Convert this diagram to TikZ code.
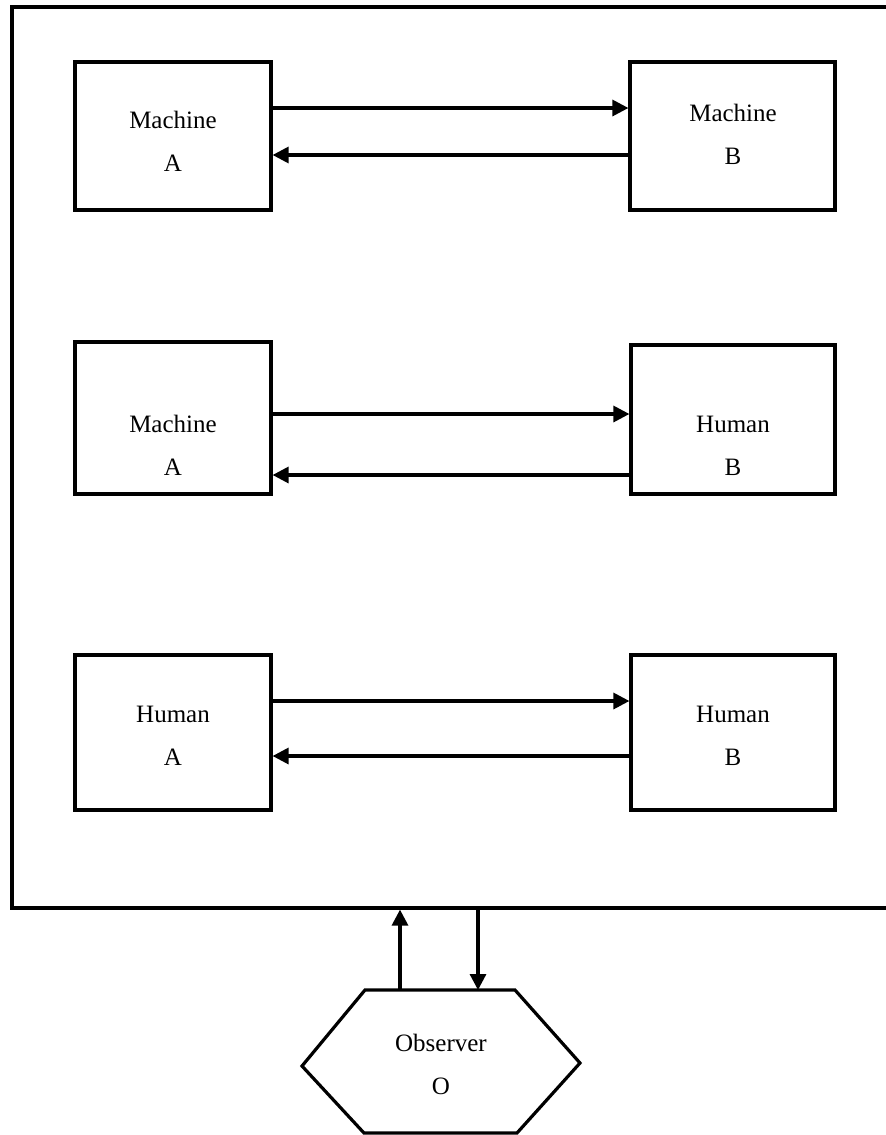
\documentclass[tikz,border=0pt]{standalone}
\usepackage{fontspec}
\setmainfont{Liberation Serif}
\usetikzlibrary{arrows.meta}
\begin{document}
\begin{tikzpicture}[x=1pt,y=-1pt,
  box/.style={draw,line width=3.2pt,minimum width=#1,inner sep=0pt},
  lbl/.style={align=center,font=\fontsize{25}{43}\selectfont,inner sep=0pt},
  arr/.style={line width=3.2pt,-{Triangle[length=16pt,width=16pt]}}]
\clip (0,0) rectangle (886,1135);
\fill[white] (0,0) rectangle (886,1135);
% outer frame
\node[draw,line width=3.2pt,minimum width=880pt,minimum height=901pt,inner sep=0pt] (frame) at (452,457.5) {};
% row 1
\node[box=196pt,minimum height=148pt] (a1) at (173,136) {};
\node[box=205pt,minimum height=148pt] (b1) at (732.5,136) {};
\node[lbl] (ta1) at (173,141) {Machine\\A};
\node[lbl] (tb1) at (733,134) {Machine\\B};
\draw[arr] ([yshift=28pt]a1.east) -- ([yshift=28pt]b1.west);
\draw[arr] ([yshift=-19pt]b1.west) -- ([yshift=-19pt]a1.east);
% row 2
\node[box=196pt,minimum height=152pt] (a2) at (173,418) {};
\node[box=204pt,minimum height=149pt] (b2) at (733,419.5) {};
\node[lbl] (ta2) at (173,445) {Machine\\A};
\node[lbl] (tb2) at (733,446) {Human\\B};
\draw[arr] ([yshift=4pt]a2.east) -- ([yshift=4pt]a2.east -| b2.west);
\draw[arr] ([yshift=-57pt]a2.east -| b2.west) -- ([yshift=-57pt]a2.east);
% row 3
\node[box=196pt,minimum height=155pt] (a3) at (173,732.5) {};
\node[box=204pt,minimum height=155pt] (b3) at (733,732.5) {};
\node[lbl] (ta3) at (173,736) {Human\\A};
\node[lbl] (tb3) at (733,736) {Human\\B};
\draw[arr] ([yshift=31.5pt]a3.east) -- ([yshift=31.5pt]b3.west);
\draw[arr] ([yshift=-23.5pt]b3.west) -- ([yshift=-23.5pt]a3.east);
% observer
\draw[line width=3.2pt,line join=miter] (365,990) -- (515,990) -- (580,1063) -- (517,1133) -- (364,1133) -- (302,1066) -- cycle;
\coordinate (o1) at (400,990);
\coordinate (o2) at (478,990);
\node[lbl] (obs) at (441,1064) {Observer\\O};
\draw[arr] (o1) -- (o1 |- frame.south);
\draw[arr] (o2 |- frame.south) -- (o2);
\end{tikzpicture}
\end{document}
